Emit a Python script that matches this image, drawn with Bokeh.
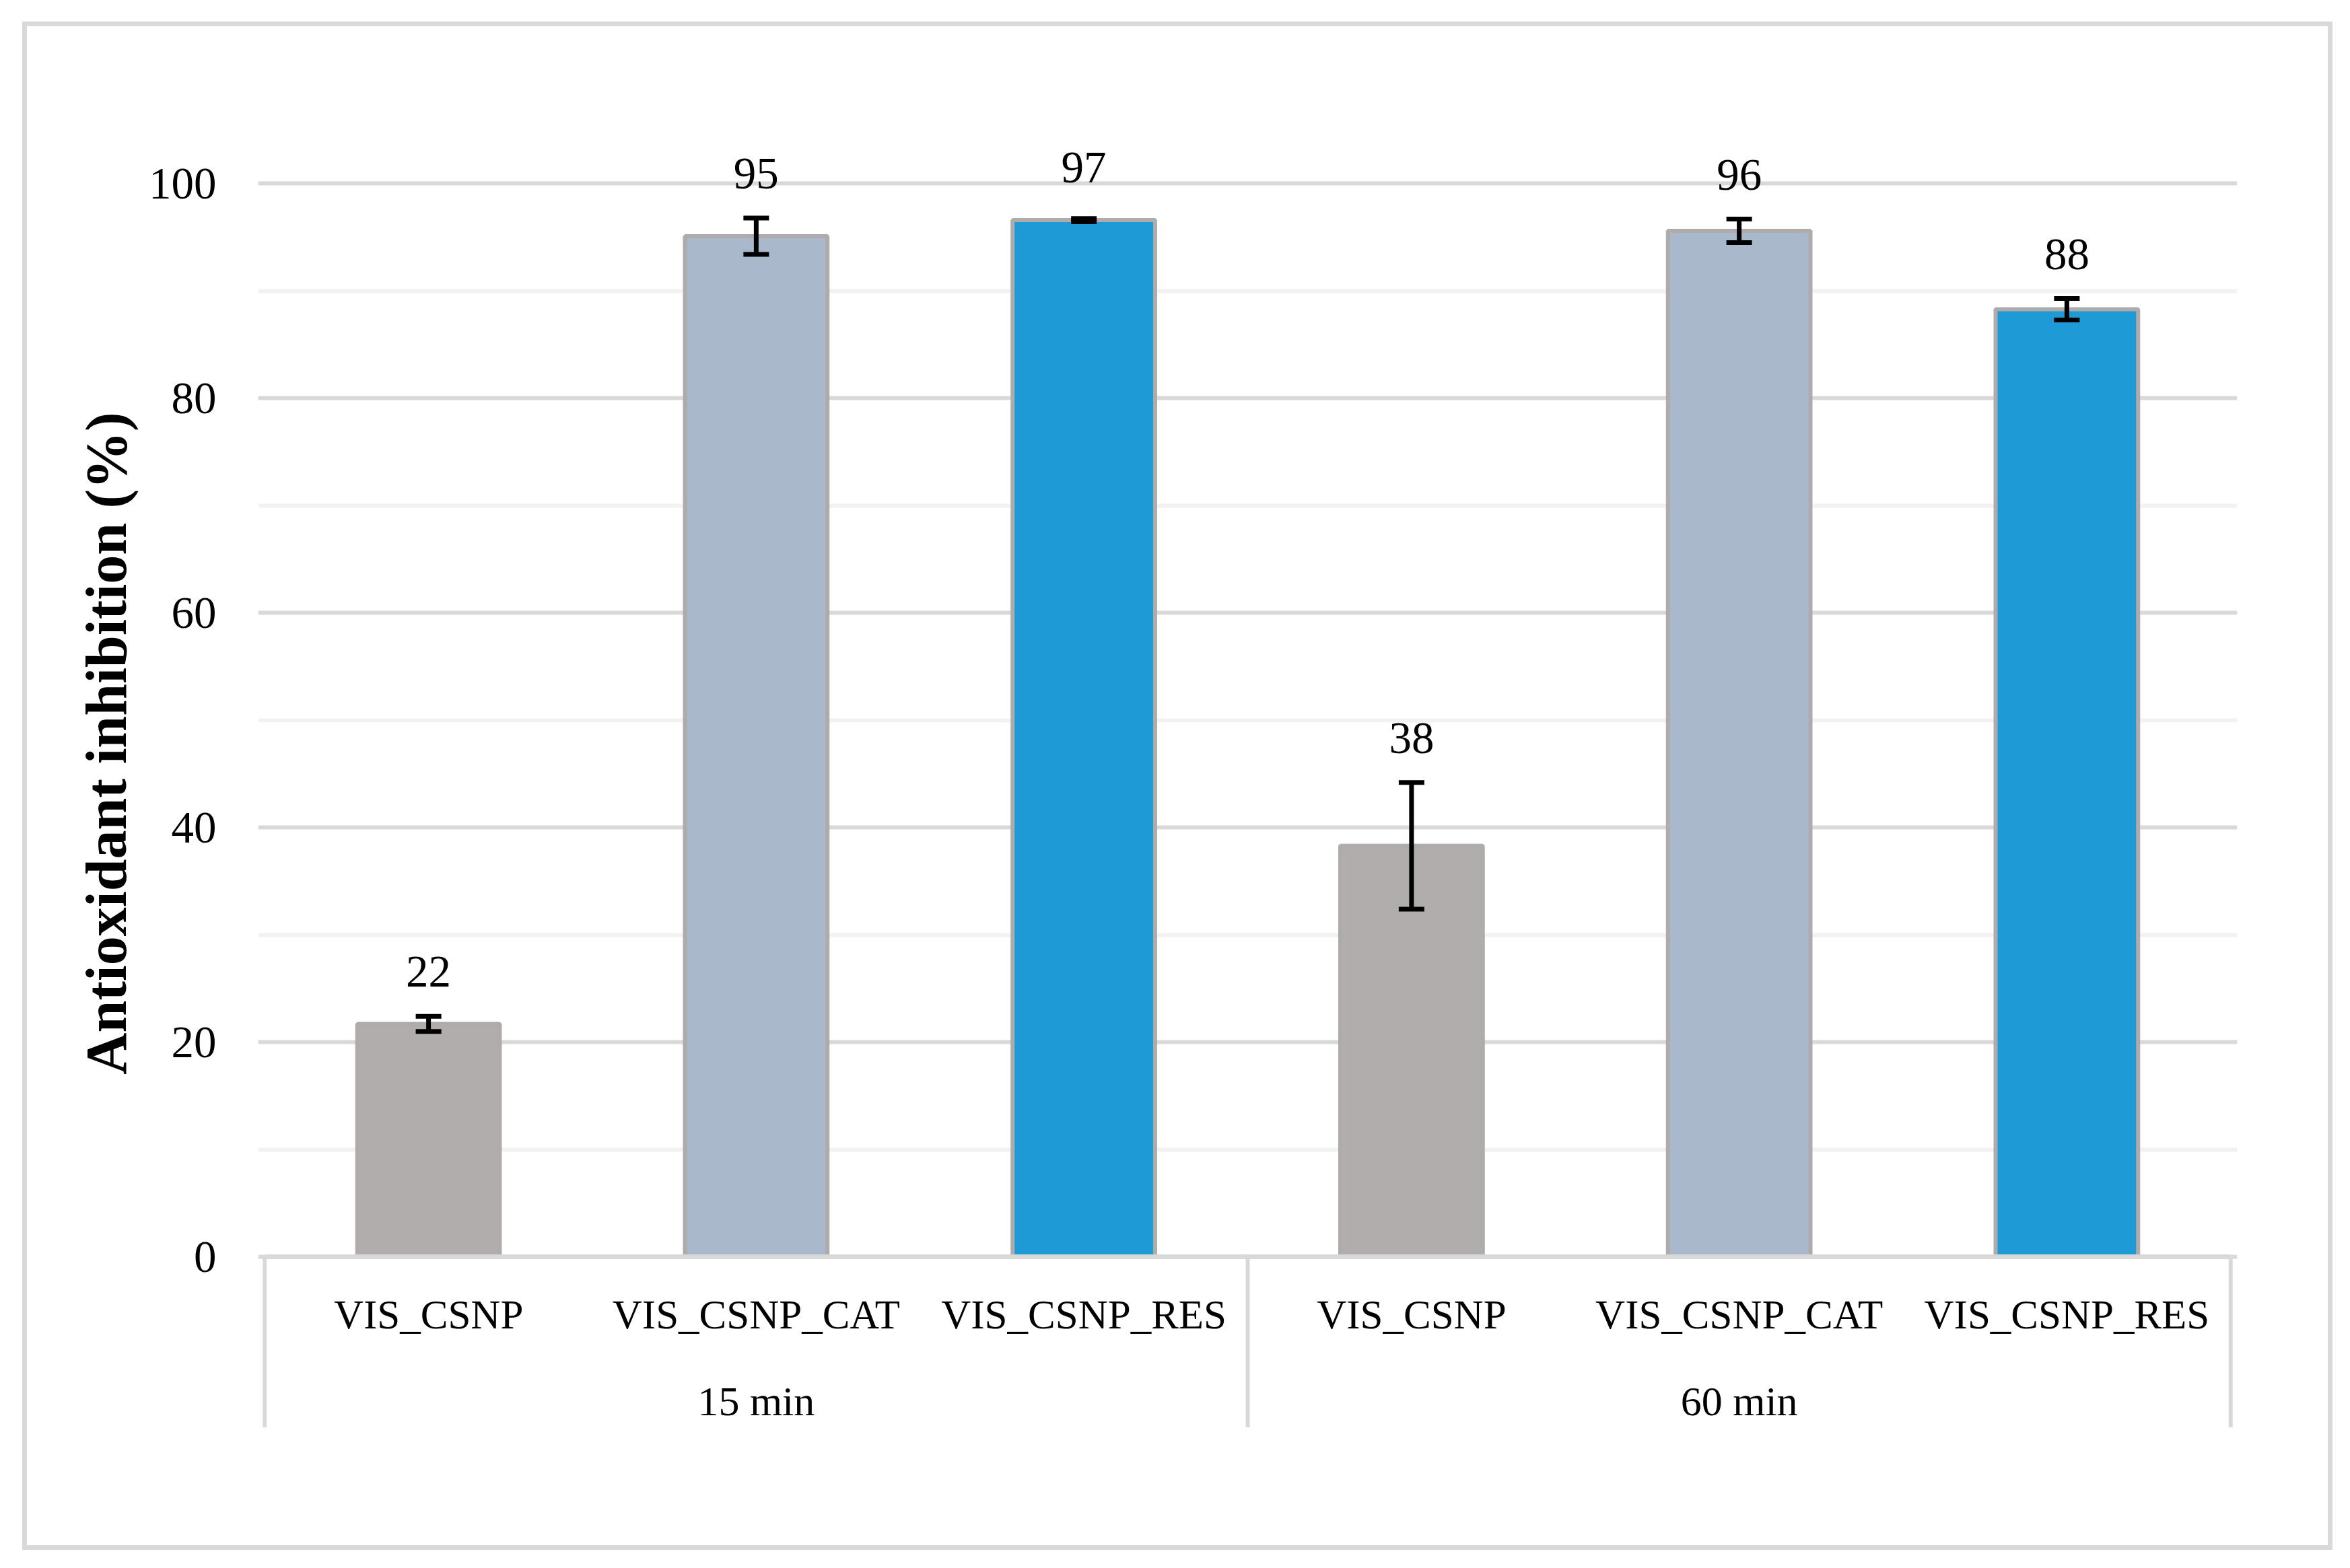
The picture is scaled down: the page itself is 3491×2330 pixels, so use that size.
from bokeh.plotting import figure
from bokeh.models import (FactorRange, Range1d, FixedTicker, ColumnDataSource,
                          Whisker, TeeHead)
from bokeh.core.properties import value
from bokeh.embed import file_html
from bokeh.resources import INLINE

# ---------------- data ----------------
groups = ["15 min", "60 min"]
samples = ["VIS_CSNP", "VIS_CSNP_CAT", "VIS_CSNP_RES"]
means = [21.7, 95.1, 96.6, 38.3, 95.6, 88.3]
errors = [0.7, 1.7, 0.15, 5.9, 1.1, 1.0]
sample_colors = ["#b0adac", "#a9b9cb", "#1e9bd7"]
y_ticks = [0, 20, 40, 60, 80, 100]
y_minor_ticks = [10, 30, 50, 70, 90]
y_title = "Antioxidant inhibition (%)"

# ---------------- derived ----------------
factors = [(g, s) for g in groups for s in samples]
colors = [sample_colors[i % len(samples)] for i in range(len(factors))]
upper = [m + e for m, e in zip(means, errors)]
lower = [m - e for m, e in zip(means, errors)]
labels = [str(int(round(m))) for m in means]
PX = 15.95  # px per data unit on the y axis
label_y = [max(m + 78 / PX, u + 66 / PX) for m, u in zip(means, upper)]

FONT = "Liberation Serif"
GRID = "#d9d9d9"

src = ColumnDataSource(dict(x=factors, top=means, upper=upper, lower=lower,
                            color=colors, label=labels, label_y=label_y))

p = figure(width=3432, height=2271,
           x_range=FactorRange(*factors, factor_padding=0, group_padding=0,
                               range_padding=0.02, range_padding_units="absolute"),
           y_range=Range1d(-16.3, 112),
           output_backend="svg", toolbar_location=None, x_axis_location=None,
           min_border_left=343, min_border_right=149,
           min_border_top=42, min_border_bottom=183)
p.margin = (32, 0, 0, 33)
p.styles = {"border": "7px solid #d9d9d9"}
p.outline_line_color = None
p.background_fill_color = "white"
p.border_fill_color = "white"
p.xgrid.visible = False

yax = p.yaxis[0]
yax.ticker = FixedTicker(ticks=y_ticks, minor_ticks=y_minor_ticks)
yax.axis_line_color = None
yax.major_tick_line_color = None
yax.minor_tick_line_color = None
yax.major_tick_out = 0
yax.minor_tick_out = 0
yax.major_label_text_font = FONT
yax.major_label_text_font_size = "67px"
yax.major_label_text_color = "black"
yax.major_label_standoff = 62
yax.axis_label = y_title
yax.axis_label_text_font = FONT
yax.axis_label_text_font_style = "bold"
yax.axis_label_text_font_size = "86px"
yax.axis_label_text_color = "black"
yax.axis_label_standoff = 12

p.ygrid.grid_line_color = GRID
p.ygrid.grid_line_width = 6
p.ygrid.minor_grid_line_color = "#f2f2f2"
p.ygrid.minor_grid_line_width = 6

# category axis box
left_edge = factors[0] + (-0.5,)
mid_edge = factors[len(samples) - 1] + (0.5,)
right_edge = factors[-1] + (0.5,)
edges = [left_edge, mid_edge, right_edge]
p.segment(x0=edges, y0=[0] * 3, x1=edges, y1=[-15.9] * 3,
          line_color=GRID, line_width=6)

# bars
p.vbar(x="x", top="top", bottom=0, width=0.435, source=src,
       fill_color="color", line_color="#afabab", line_width=6)

# axis line
p.segment(x0=[left_edge], y0=[0], x1=[right_edge], y1=[0],
          line_color=GRID, line_width=7)

# error bars
w = Whisker(base="x", upper="upper", lower="lower", source=src,
            line_color="black", line_width=7, level="overlay",
            upper_head=TeeHead(size=38, line_width=7, line_color="black"),
            lower_head=TeeHead(size=38, line_width=7, line_color="black"))
p.add_layout(w)

# data labels
p.text(x="x", y="label_y", text="label", source=src,
       text_font=value(FONT), text_font_size="67px", text_color="black",
       text_align="center", text_baseline="middle")

# category labels
p.text(x=factors, y=[-5.4] * len(factors), text=[s for g, s in factors],
       text_font=value(FONT), text_font_size="61px", text_color="black",
       text_align="center", text_baseline="middle")
group_centers = [(g, samples[len(samples) // 2]) for g in groups]
p.text(x=group_centers, y=[-13.45] * len(groups), text=groups,
       text_font=value(FONT), text_font_size="62px", text_color="black",
       text_align="center", text_baseline="middle")

open("out.html", "w").write(file_html(p, INLINE))
